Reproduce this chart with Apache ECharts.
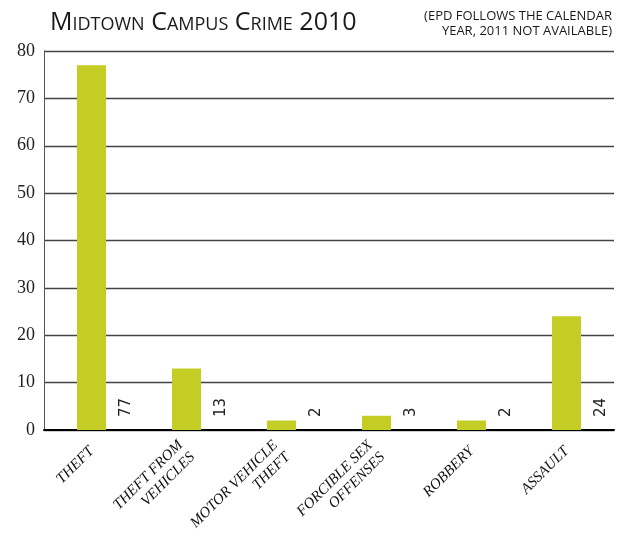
<!DOCTYPE html>
<html>
<head>
<meta charset="utf-8">
<script src="https://cdn.jsdelivr.net/npm/echarts@6/dist/echarts.min.js"></script>
<style>html,body{margin:0;padding:0;background:#fff;}#c{width:625px;height:556px;}</style>
</head>
<body>
<div id="c"></div>
<script>
var categories = ['THEFT', 'THEFT FROM\nVEHICLES', 'MOTOR VEHICLE\nTHEFT', 'FORCIBLE SEX\nOFFENSES', 'ROBBERY', 'ASSAULT'];
var values = [77, 13, 2, 3, 2, 24];
var titleText = 'Midtown Campus Crime 2010';
var noteText = '(EPD FOLLOWS THE CALENDAR\nYEAR, 2011 NOT AVAILABLE)';

var chart = echarts.init(document.getElementById('c'), null, {renderer: 'canvas'});
chart.setOption({
  animation: false,
  backgroundColor: '#ffffff',
  title: {
    text: titleText,
    left: 45, top: 5,
    textStyle: {fontFamily: 'Open Sans', fontStyle: 'small-caps', fontWeight: 'normal', fontSize: 25, color: '#1a1a1a'}
  },
  graphic: [{
    type: 'text',
    right: 13, top: 9,
    style: {
      text: noteText,
      textAlign: 'right',
      fontFamily: 'Open Sans', fontSize: 13, lineHeight: 15, fill: '#1a1a1a'
    }
  }],
  grid: {left: 44, right: 11, top: 51, bottom: 126, containLabel: false},
  xAxis: {
    type: 'category',
    data: categories,
    axisTick: {show: false},
    axisLine: {lineStyle: {color: '#000', width: 2}},
    axisLabel: {
      interval: 0, rotate: 45, margin: 19,
      fontFamily: 'Liberation Serif', fontStyle: 'italic', fontSize: 15, lineHeight: 17, color: '#111'
    }
  },
  yAxis: {
    type: 'value', min: 0, max: 80, interval: 10,
    axisLine: {show: true, lineStyle: {color: '#555', width: 1}},
    axisTick: {show: false},
    splitLine: {lineStyle: {color: '#444', width: 1.3}},
    axisLabel: {margin: 9, fontFamily: 'Liberation Serif', fontSize: 18, color: '#222'}
  },
  series: [{
    type: 'bar',
    data: values,
    barWidth: 29,
    itemStyle: {color: '#c3cd23'},
    label: {
      show: true,
      position: ['170%', '100%'],
      rotate: 90,
      align: 'left',
      verticalAlign: 'middle',
      padding: [0, 0, 0, 13],
      fontFamily: 'DejaVu Sans', fontSize: 15, color: '#222'
    }
  }]
});
</script>
</body>
</html>
